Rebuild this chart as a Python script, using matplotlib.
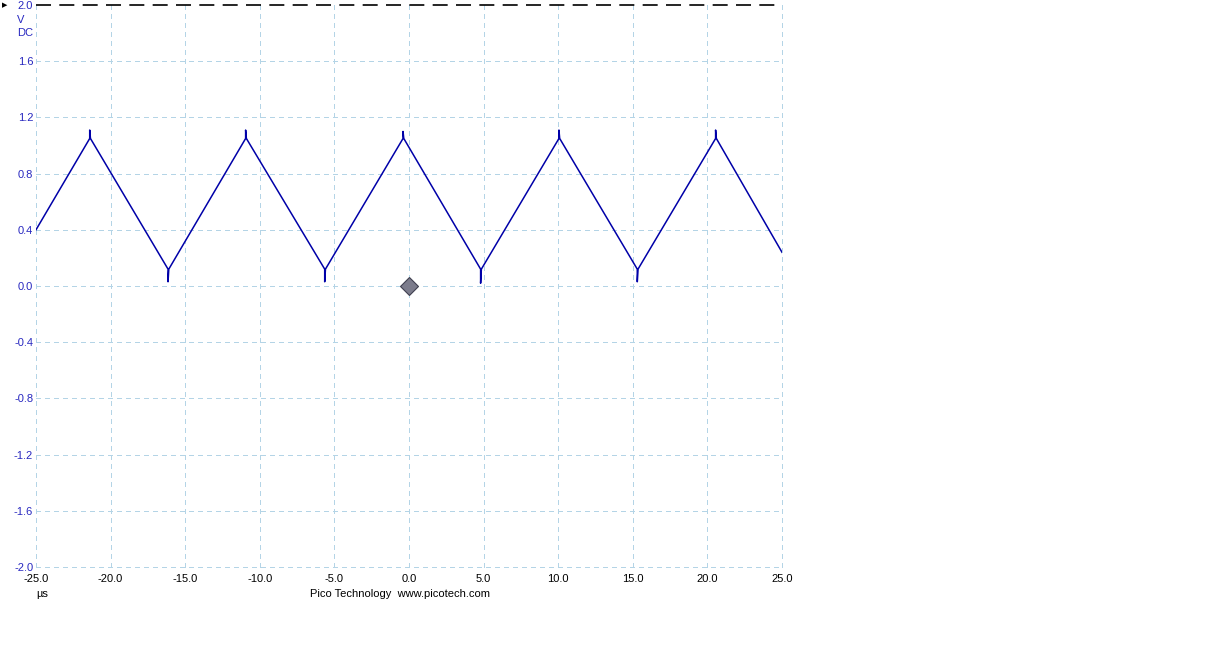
import matplotlib
matplotlib.use('Agg')
import matplotlib.pyplot as plt

# vertices of the captured triangle wave (time in us, volts)
t_us = [-25.0, -21.4, -21.4, -21.35, -16.15, -16.15, -16.1,
        -10.95, -10.95, -10.9, -5.65, -5.65, -5.6,
        -0.4, -0.4, -0.35, 4.8, 4.8, 4.85,
        10.05, 10.05, 10.1, 15.3, 15.3, 15.35,
        20.55, 20.55, 20.6, 25.0]
volts = [0.40, 1.05, 1.11, 1.05, 0.12, 0.03, 0.12,
         1.05, 1.11, 1.05, 0.12, 0.03, 0.12,
         1.05, 1.10, 1.05, 0.12, 0.02, 0.12,
         1.05, 1.11, 1.05, 0.12, 0.03, 0.12,
         1.05, 1.11, 1.05, 0.24]

x_ticks = [-25.0, -20.0, -15.0, -10.0, -5.0, 0.0, 5.0, 10.0, 15.0, 20.0, 25.0]
y_ticks = [-2.0, -1.6, -1.2, -0.8, -0.4, 0.0, 0.4, 0.8, 1.2, 1.6, 2.0]

plt.rcParams['font.family'] = ['Liberation Sans', 'DejaVu Sans']

fig = plt.figure(figsize=(12.12, 6.48), dpi=100)
ax = fig.add_axes([36 / 1212, 1 - 567 / 648, 746 / 1212, 562 / 648])

ax.set_xlim(-25, 25)
ax.set_ylim(-2, 2)
for s in ax.spines.values():
    s.set_visible(False)

grid_col = '#b4d4e6'
for x in x_ticks:
    ax.axvline(x, color=grid_col, lw=1, ls=(0, (3, 3)), zorder=0,
               antialiased=False, clip_on=False)
for y in y_ticks[:-1]:
    ax.axhline(y, color=grid_col, lw=1, ls=(0, (3, 3)), zorder=0,
               antialiased=False, clip_on=False)
ax.axhline(2.0, color='black', lw=1.2, ls=(0, (9, 5)), zorder=1, clip_on=False)

ax.plot(t_us, volts, color='#0000a8', lw=1.1, zorder=3)
ax.plot([0], [0], marker='D', ms=9, color='#7c7c8c', mec='#404050', mew=0.8,
        zorder=4)

ax.set_xticks(x_ticks)
ax.set_xticklabels(['%.1f' % v for v in x_ticks], fontsize=8, color='black')
ax.set_yticks(y_ticks)
ax.set_yticklabels(['%.1f' % v for v in y_ticks], fontsize=8, color='#2828c0')
ax.tick_params(length=0)
ax.tick_params(axis='x', pad=5)
ax.tick_params(axis='y', pad=2)

fig.text(17 / 1212, 1 - 20 / 648, 'V', fontsize=8, color='#2828c0', va='center')
fig.text(17 / 1212, 1 - 33 / 648, 'DC', fontsize=8, color='#2828c0', va='center')
fig.text(36 / 1212, 1 - 594 / 648, 'µs', fontsize=8, va='center')
fig.text(400 / 1212, 1 - 594 / 648, 'Pico Technology  www.picotech.com',
         fontsize=8, ha='center', va='center')
fig.text(2 / 1212, 1 - 5 / 648, '▶', fontsize=5, va='center',
         family='DejaVu Sans')

fig.savefig('out.png', dpi=100)
